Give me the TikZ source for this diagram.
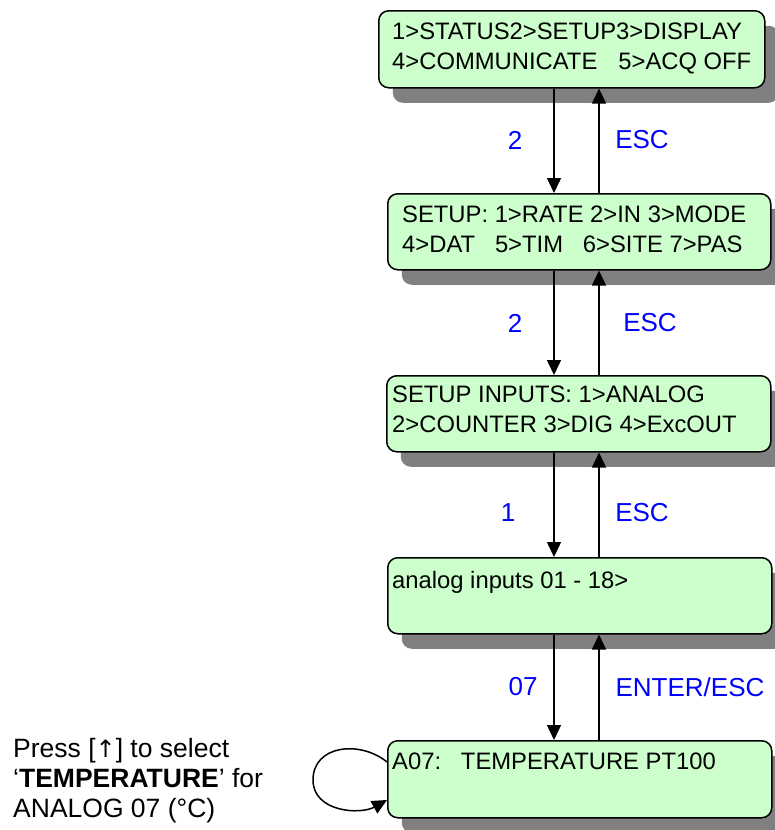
\documentclass[tikz,border=0pt]{standalone}
\usepackage{fontspec}
\setmainfont{Liberation Sans}
\newfontfamily\arrowfont{DejaVu Sans}
\usetikzlibrary{arrows.meta,shadows}

\definecolor{lcdgreen}{RGB}{204,255,204}
\definecolor{shadowgray}{RGB}{128,128,128}
\definecolor{keyblue}{RGB}{0,0,255}

\tikzset{
    screen/.style={draw=black, line width=1.5pt, fill=lcdgreen, rounded corners=10pt,
        anchor=north west, inner sep=0pt,
        drop shadow={shadow xshift=14pt, shadow yshift=-15pt, opacity=1, fill=shadowgray}},
    lcdtext/.style={font=\fontsize{23.8pt}{29.5pt}\selectfont, align=left, inner sep=0pt, anchor=north west},
    keylabel/.style={font=\fontsize{26pt}{30pt}\selectfont, text=keyblue, inner sep=0pt},
    flow/.style={line width=1.5pt, -{Triangle[length=15pt,width=14pt]}}
}

\begin{document}
\begin{tikzpicture}[x=1pt, y=-1pt]
    \clip (0,0) rectangle (775,830);

    % menu screens
    \node[screen, minimum width=386pt, minimum height=77pt] (menu)    at (378,10)  {};
    \node[screen, minimum width=383pt, minimum height=76pt] (setup)   at (387,193) {};
    \node[screen, minimum width=384pt, minimum height=76pt] (inputs)  at (386,375) {};
    \node[screen, minimum width=384pt, minimum height=76pt] (analog)  at (387,557) {};
    \node[screen, minimum width=384pt, minimum height=77pt] (tempsel) at (387,740) {};

    \node[lcdtext] (menutxt)    at (392,23)  {1>STATUS2>SETUP3>DISPLAY\\4>COMMUNICATE\hspace{21pt}5>ACQ OFF};
    \node[lcdtext] (setuptxt)   at (402,206) {SETUP: 1>RATE 2>IN 3>MODE\\4>DAT\ \ \ 5>TIM\ \ \ 6>SITE 7>PAS};
    \node[lcdtext] (inputstxt)  at (392,386) {SETUP INPUTS: 1>ANALOG\\2>COUNTER 3>DIG 4>ExcOUT};
    \node[lcdtext] (analogtxt)  at (392,571) {analog inputs 01 - 18>};
    \node[lcdtext] (tempseltxt) at (392,753) {A07:\ \ \ TEMPERATURE PT100};

    % key presses
    \coordinate (dn) at (554,0);
    \coordinate (up) at (599,0);

    \draw[flow] (menu.south -| dn) -- (setup.north -| dn);
    \draw[flow] (setup.north -| up) -- (menu.south -| up);
    \draw[flow] (setup.south -| dn) -- (inputs.north -| dn);
    \draw[flow] (inputs.north -| up) -- (setup.south -| up);
    \draw[flow] (inputs.south -| dn) -- (analog.north -| dn);
    \draw[flow] (analog.north -| up) -- (inputs.south -| up);
    \draw[flow] (analog.south -| dn) -- (tempsel.north -| dn);
    \draw[flow] (tempsel.north -| up) -- (analog.south -| up);

    \node[keylabel] (k1) at (515,140) {2};
    \node[keylabel] (e1) at (642,140) {ESC};
    \node[keylabel] (k2) at (515,323) {2};
    \node[keylabel] (e2) at (650,323) {ESC};
    \node[keylabel] (k3) at (508,513) {1};
    \node[keylabel] (e3) at (642,513) {ESC};
    \node[keylabel] (k4) at (523,687) {07};
    \node[keylabel] (e4) at (690,687) {ENTER/ESC};

    % scroll loop
    \draw[flow] ([yshift=-22pt]tempsel.north west)
        .. controls (360,740) and (313,745) .. (313,780)
        .. controls (313,812) and (360,815) .. ([yshift=-60pt]tempsel.north west);

    \node[font=\fontsize{26.5pt}{30pt}\selectfont, align=left, inner sep=0pt, anchor=north west] (hint) at (13,738)
        {Press [{\arrowfont\fontsize{24pt}{30pt}\selectfont ↑}] to select\\‘\textbf{TEMPERATURE}’ for\\ANALOG 07 (°C)};
\end{tikzpicture}
\end{document}
